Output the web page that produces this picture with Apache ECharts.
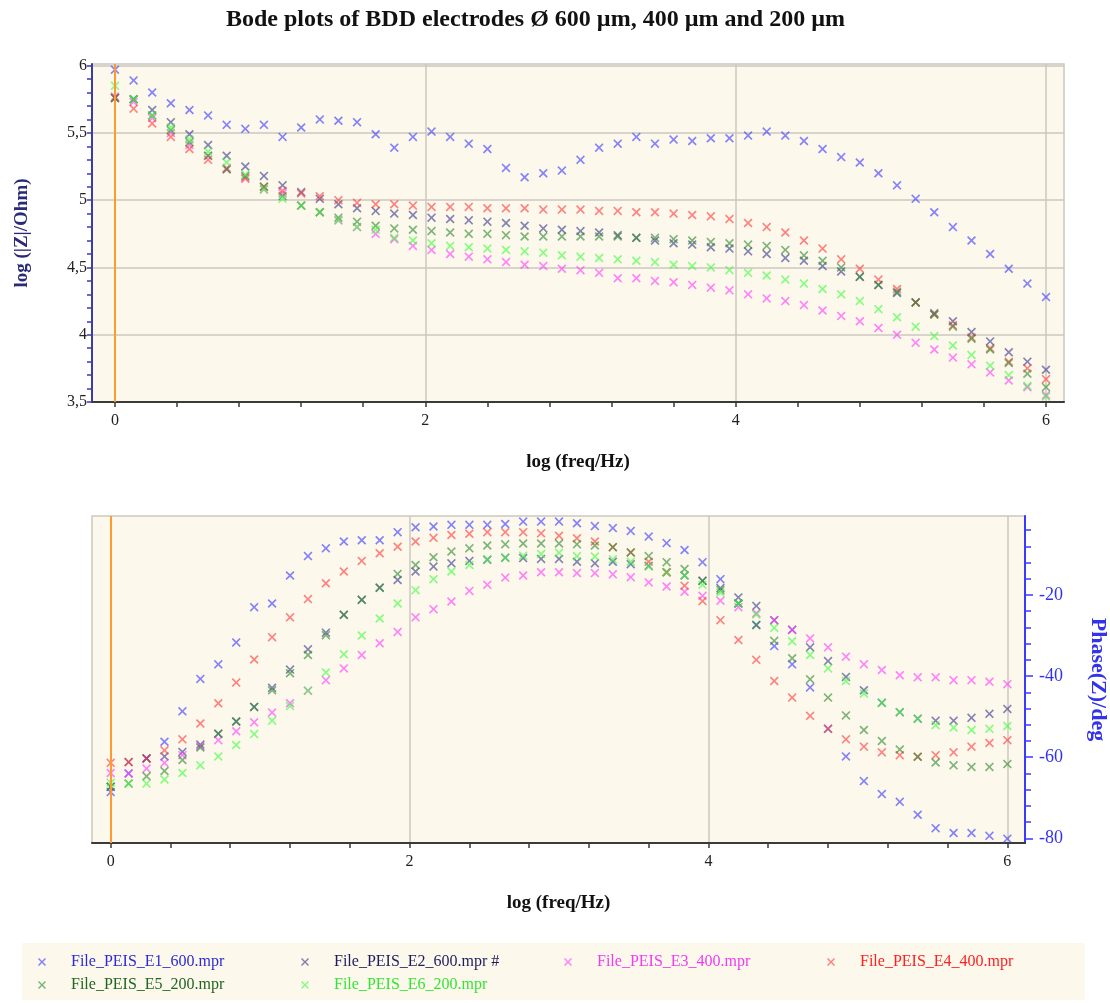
<!DOCTYPE html>
<html><head><meta charset="utf-8">
<script src="https://cdn.jsdelivr.net/npm/echarts@6/dist/echarts.min.js"></script>
<style>html,body{margin:0;padding:0;background:#fff}#chart{width:1110px;height:1003px}</style>
</head><body><div id="chart"></div>
<script>
// ---------------- data ----------------
const logFreq = [0,0.12,0.24,0.36,0.48,0.6,0.72,0.84,0.96,1.08,1.2,1.32,1.44,1.56,1.68,1.8,1.92,2.04,2.16,2.28,2.4,2.52,2.64,2.76,2.88,3,3.12,3.24,3.36,3.48,3.6,3.72,3.84,3.96,4.08,4.2,4.32,4.44,4.56,4.68,4.8,4.92,5.04,5.16,5.28,5.4,5.52,5.64,5.76,5.88,6];

const seriesNames = ['File_PEIS_E1_600.mpr','File_PEIS_E2_600.mpr #','File_PEIS_E3_400.mpr','File_PEIS_E4_400.mpr','File_PEIS_E5_200.mpr','File_PEIS_E6_200.mpr'];

const logZ_E1 = [5.97,5.89,5.80,5.72,5.67,5.63,5.56,5.53,5.56,5.47,5.54,5.60,5.59,5.58,5.49,5.39,5.47,5.51,5.47,5.42,5.38,5.24,5.17,5.20,5.22,5.30,5.39,5.42,5.47,5.42,5.45,5.44,5.46,5.46,5.48,5.51,5.48,5.44,5.38,5.32,5.28,5.20,5.11,5.01,4.91,4.80,4.70,4.60,4.49,4.38,4.28];
const logZ_E2 = [5.76,5.75,5.67,5.58,5.49,5.41,5.33,5.25,5.18,5.11,5.06,5.01,4.97,4.94,4.92,4.90,4.89,4.87,4.86,4.85,4.84,4.83,4.81,4.79,4.78,4.77,4.76,4.74,4.72,4.70,4.68,4.67,4.65,4.64,4.62,4.60,4.57,4.55,4.51,4.47,4.43,4.37,4.31,4.24,4.16,4.10,4.02,3.95,3.87,3.80,3.74];
const logZ_E3 = [5.77,5.73,5.61,5.50,5.41,5.33,5.24,5.17,5.08,5.05,4.96,4.91,4.85,4.80,4.75,4.71,4.66,4.63,4.60,4.58,4.56,4.54,4.52,4.51,4.49,4.48,4.46,4.42,4.42,4.40,4.39,4.37,4.35,4.33,4.30,4.27,4.25,4.22,4.18,4.14,4.10,4.05,4.00,3.94,3.89,3.83,3.78,3.72,3.66,3.61,3.55];
const logZ_E4 = [5.76,5.68,5.57,5.47,5.38,5.30,5.23,5.16,5.10,5.07,5.05,5.03,5.00,4.98,4.97,4.97,4.96,4.95,4.95,4.95,4.94,4.94,4.94,4.93,4.93,4.93,4.92,4.92,4.91,4.91,4.90,4.89,4.88,4.86,4.83,4.80,4.76,4.70,4.64,4.56,4.49,4.41,4.34,4.24,4.15,4.07,3.98,3.90,3.80,3.75,3.67];
const logZ_E5 = [5.76,5.75,5.63,5.52,5.43,5.33,5.23,5.18,5.10,5.03,4.96,4.91,4.87,4.84,4.81,4.79,4.78,4.77,4.76,4.75,4.75,4.74,4.73,4.73,4.73,4.73,4.73,4.73,4.72,4.72,4.71,4.70,4.69,4.68,4.67,4.66,4.63,4.59,4.55,4.50,4.43,4.37,4.32,4.24,4.15,4.06,3.97,3.89,3.79,3.71,3.61];
const logZ_E6 = [5.85,5.75,5.63,5.54,5.45,5.36,5.28,5.19,5.08,5.01,4.96,4.91,4.85,4.80,4.78,4.72,4.70,4.68,4.66,4.65,4.64,4.63,4.62,4.61,4.59,4.58,4.57,4.56,4.55,4.54,4.52,4.51,4.50,4.48,4.46,4.44,4.41,4.38,4.34,4.30,4.25,4.19,4.13,4.06,3.99,3.92,3.85,3.77,3.70,3.62,3.54];

const phase_E1 = [-68.6,-64.0,-60.3,-56.2,-48.7,-40.7,-37.1,-31.7,-23.0,-22.1,-15.2,-10.4,-8.5,-6.8,-6.5,-6.5,-4.5,-3.3,-3.1,-2.7,-2.7,-2.7,-2.5,-1.9,-1.9,-1.9,-2.3,-3.0,-3.5,-4.2,-5.6,-7.2,-8.9,-11.9,-16.1,-22.1,-27.4,-32.6,-37.1,-42.8,-53.0,-59.8,-65.9,-69.1,-71.0,-74.2,-77.5,-78.7,-78.7,-79.4,-80.1];
const phase_E2 = [-67.3,-61.2,-60.3,-59.8,-58.7,-56.9,-54.2,-51.2,-47.6,-42.9,-38.4,-33.4,-29.3,-24.9,-21.2,-18.2,-16.3,-14.2,-13.0,-12.2,-11.6,-11.3,-10.8,-10.9,-11.1,-11.1,-11.8,-12.2,-11.8,-12.4,-12.8,-14.4,-15.2,-16.5,-18.3,-20.6,-22.7,-26.2,-28.6,-32.9,-36.3,-40.2,-43.5,-46.6,-48.9,-50.5,-51.0,-51.0,-50.3,-49.3,-48.1];
const phase_E3 = [-63.9,-64.0,-62.8,-61.4,-59.5,-57.3,-55.8,-53.6,-51.4,-49.0,-46.7,-43.6,-41.0,-38.1,-34.8,-31.9,-29.1,-25.5,-23.5,-21.6,-19.0,-17.5,-15.7,-15.2,-14.4,-14.4,-14.6,-14.6,-14.9,-15.6,-16.9,-17.9,-19.2,-20.2,-21.4,-23.0,-24.5,-26.2,-28.6,-30.7,-32.9,-35.2,-37.1,-38.5,-39.8,-40.3,-40.3,-41.0,-41.0,-41.4,-42.0];
const phase_E4 = [-61.4,-61.2,-60.3,-58.3,-55.6,-51.7,-46.7,-41.6,-35.9,-30.4,-25.5,-21.0,-17.1,-14.2,-11.6,-9.7,-8.1,-6.8,-5.9,-5.2,-4.9,-4.5,-4.5,-4.5,-4.8,-5.4,-6.0,-6.8,-8.2,-9.5,-11.8,-14.4,-17.7,-21.5,-26.2,-31.1,-36.0,-41.2,-45.3,-49.8,-53.0,-55.6,-57.4,-58.8,-59.5,-59.9,-59.5,-58.8,-57.4,-56.5,-55.8];
const phase_E5 = [-67.3,-66.5,-64.7,-63.4,-60.7,-57.6,-54.2,-51.2,-47.6,-43.5,-39.3,-34.8,-29.9,-24.9,-21.2,-18.2,-14.8,-12.6,-10.7,-9.3,-8.5,-7.8,-7.5,-7.3,-7.3,-7.3,-7.5,-7.8,-8.2,-9.5,-10.4,-11.9,-13.6,-16.5,-18.8,-22.1,-27.4,-31.3,-35.6,-40.8,-45.3,-49.7,-53.3,-56.0,-58.1,-59.9,-61.3,-62.0,-62.4,-62.4,-61.7];
const phase_E6 = [-66.3,-66.5,-66.5,-65.5,-63.9,-62.0,-59.8,-57.0,-54.3,-51.0,-47.4,-43.6,-39.1,-34.6,-30.0,-25.8,-22.1,-18.8,-16.1,-14.2,-12.6,-11.2,-10.8,-10.3,-9.9,-9.6,-10.4,-10.5,-11.2,-11.8,-13.0,-14.4,-15.2,-17.5,-19.4,-22.1,-24.8,-28.1,-31.4,-34.8,-38.1,-41.2,-44.3,-46.6,-48.9,-50.5,-52.1,-52.7,-53.3,-53.0,-52.3];

// tick labels / tick positions
const xMajorTicks = [0,2,4,6];
const xMinorTicks = [0,0.4,0.8,1.2,1.6,2,2.4,2.8,3.2,3.6,4,4.4,4.8,5.2,5.6,6];
const logZTicks = [3.5,4,4.5,5,5.5,6];
const logZMinorTicks = [3.5,3.6,3.7,3.8,3.9,4,4.1,4.2,4.3,4.4,4.5,4.6,4.7,4.8,4.9,5,5.1,5.2,5.3,5.4,5.5,5.6,5.7,5.8,5.9,6];
const phaseTicks = [-80,-60,-40,-20];
const phaseMinorTicks = [-80,-76,-72,-68,-64,-60,-56,-52,-48,-44,-40,-36,-32,-28,-24,-20,-16,-12,-8,-4];

// ---------------- styling ----------------
const SERIF = '"Liberation Serif", "Times New Roman", serif';
const markerColors = ['#3a3aff','#3a3a8c','#ff3cff','#ff3a3a','#2e8a2e','#3cff3c'];
const legendTextColors = ['#2b2bd6','#1d1d5e','#f03cf0','#ff2020','#1f661f','#33e633'];
const CROSS = 'path://M0,1.3L1.3,0L5,3.7L8.7,0L10,1.3L6.3,5L10,8.7L8.7,10L5,6.3L1.3,10L0,8.7L3.7,5Z';
const GRIDC = '#cbc8c0';
const BG = '#fdf8ec';

const logZData = [logZ_E1,logZ_E2,logZ_E3,logZ_E4,logZ_E5,logZ_E6];
const phaseData = [phase_E1,phase_E2,phase_E3,phase_E4,phase_E5,phase_E6];

const topX = {min:-0.148, max:6.116};
const botX = {min:-0.125, max:6.118};
const topY = {min:3.5, max:6.012};
const botY = {min:-81.16, max:-0.52};

function pairs(arr){ return logFreq.map((x,i)=>[x, arr[i]]); }

const series = [];
// orange marker lines at log f = 0
[0,1].forEach(g=>{
  series.push({
    type:'scatter', name:'cursor'+g, xAxisIndex: g*2, yAxisIndex: g*2, data: [], z: 1, silent:true,
    markLine:{silent:true, symbol:['none','none'], label:{show:false},
      lineStyle:{color:'#ff9a2e', width:2, type:'solid'}, data:[{xAxis:0}]}
  });
});
seriesNames.forEach((n,k)=>{
  series.push({type:'scatter', name:n, xAxisIndex:0, yAxisIndex:0, symbol:CROSS, symbolSize:9,
    itemStyle:{color:markerColors[k], opacity:0.62}, data:pairs(logZData[k]), z:3});
  series.push({type:'scatter', name:n, xAxisIndex:2, yAxisIndex:2, symbol:CROSS, symbolSize:9,
    itemStyle:{color:markerColors[k], opacity:0.62}, data:pairs(phaseData[k]), z:3});
});

const tickLabel = {fontFamily:SERIF, fontSize:16, color:'#222'};
const nameStyle = {fontFamily:SERIF, fontWeight:'bold', fontSize:19, color:'#111'};

const option = {
  backgroundColor:'#ffffff',
  animation:false,
  title:{text:'Bode plots of BDD electrodes Ø 600 µm, 400 µm and 200 µm', left:221, top:3,
    textStyle:{fontFamily:SERIF, fontWeight:'bold', fontSize:24, color:'#111'}},
  grid:[
    {left:92, top:64, width:972, height:338, show:true, backgroundColor:BG, borderColor:GRIDC, borderWidth:1.5, outerBoundsMode:'none', containLabel:false},
    {left:92, top:516, width:933, height:327, show:true, backgroundColor:BG, borderColor:GRIDC, borderWidth:1.5, outerBoundsMode:'none', containLabel:false}
  ],
  xAxis:[
    {type:'value', gridIndex:0, position:'bottom', min:topX.min, max:topX.max,
     name:'log (freq/Hz)', nameLocation:'middle', nameGap:51, nameTextStyle:nameStyle,
     axisLine:{show:true, onZero:false, lineStyle:{color:'#3a3a3a', width:2}},
     axisTick:{show:true, length:5, customValues:xMajorTicks, lineStyle:{color:'#3a3a3a', width:1.5}},
     axisLabel:{show:true, customValues:xMajorTicks, margin:11, ...tickLabel},
     splitLine:{show:true, lineStyle:{color:GRIDC, width:1.5}}},
    {type:'value', gridIndex:0, position:'bottom', min:topX.min, max:topX.max,
     axisLine:{show:false, onZero:false}, axisLabel:{show:false}, splitLine:{show:false},
     axisTick:{show:true, length:5, customValues:xMinorTicks, lineStyle:{color:'#3a3a3a', width:1.5}}},
    {type:'value', gridIndex:1, position:'bottom', min:botX.min, max:botX.max,
     name:'log (freq/Hz)', nameLocation:'middle', nameGap:51, nameTextStyle:nameStyle,
     axisLine:{show:true, onZero:false, lineStyle:{color:'#3a3a3a', width:2}},
     axisTick:{show:true, length:5, customValues:xMajorTicks, lineStyle:{color:'#3a3a3a', width:1.5}},
     axisLabel:{show:true, customValues:xMajorTicks, margin:11, ...tickLabel},
     splitLine:{show:true, lineStyle:{color:GRIDC, width:1.5}}},
    {type:'value', gridIndex:1, position:'bottom', min:botX.min, max:botX.max,
     axisLine:{show:false, onZero:false}, axisLabel:{show:false}, splitLine:{show:false},
     axisTick:{show:true, length:5, customValues:xMinorTicks, lineStyle:{color:'#3a3a3a', width:1.5}}}
  ],
  yAxis:[
    {type:'value', gridIndex:0, position:'left', min:topY.min, max:topY.max,
     name:'log (|Z|/Ohm)', nameLocation:'middle', nameGap:60, nameRotate:90,
     nameTextStyle:{...nameStyle, color:'#2a2a78'},
     axisLine:{show:true, onZero:false, lineStyle:{color:'#3c3ca6', width:2}},
     axisTick:{show:true, length:5, customValues:logZTicks, lineStyle:{color:'#3c3ca6', width:1.5}},
     axisLabel:{show:true, customValues:logZTicks, margin:5, ...tickLabel,
       formatter:v=>String(v).replace('.', ',')},
     splitLine:{show:true, lineStyle:{color:GRIDC, width:1.5}}},
    {type:'value', gridIndex:0, position:'left', min:topY.min, max:topY.max,
     axisLine:{show:false, onZero:false}, axisLabel:{show:false}, splitLine:{show:false},
     axisTick:{show:true, length:5, customValues:logZMinorTicks, lineStyle:{color:'#3c3ca6', width:1.5}}},
    {type:'value', gridIndex:1, position:'right', min:botY.min, max:botY.max,
     name:'Phase(Z)/deg', nameLocation:'middle', nameGap:62, nameRotate:-90,
     nameTextStyle:{...nameStyle, fontSize:22, color:'#3333ee'},
     axisLine:{show:true, onZero:false, lineStyle:{color:'#3a3aff', width:2}},
     axisTick:{show:true, length:8, customValues:phaseTicks, lineStyle:{color:'#3a3aff', width:1.5}},
     axisLabel:{show:true, customValues:phaseTicks, margin:14, fontFamily:SERIF, fontSize:18, color:'#3333ee'},
     splitLine:{show:false}},
    {type:'value', gridIndex:1, position:'right', min:botY.min, max:botY.max,
     axisLine:{show:false, onZero:false}, axisLabel:{show:false}, splitLine:{show:false},
     axisTick:{show:true, length:6, customValues:phaseMinorTicks, lineStyle:{color:'#3a3aff', width:1.5}}}
  ],
  legend:{
    left:22, top:943, width:1080, orient:'horizontal',
    padding:[10,0,6,16], backgroundColor:BG,
    itemWidth:48, itemHeight:8, itemGap:5, icon:CROSS,
    textStyle:{fontFamily:SERIF, fontSize:16, width:213, lineHeight:18, padding:[0,12,0,0]},
    data: seriesNames.map((n,k)=>({name:n, textStyle:{color:legendTextColors[k]}}))
  },
  series: series
};

const chart = echarts.init(document.getElementById('chart'), null, {renderer:'canvas'});
chart.setOption(option);
</script>
</body></html>
